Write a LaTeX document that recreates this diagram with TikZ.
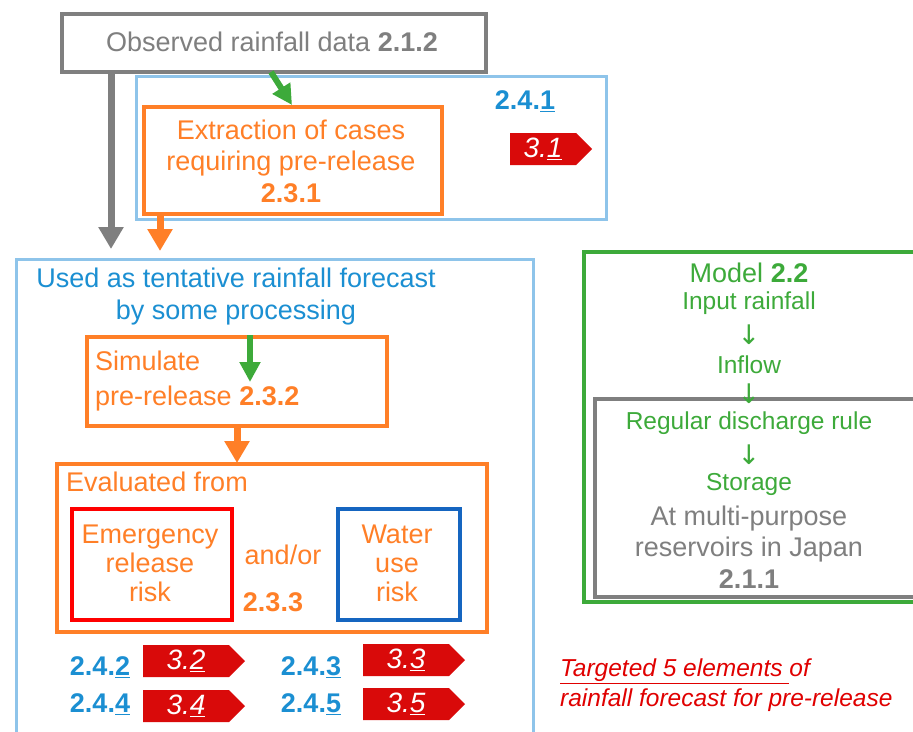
\documentclass[tikz,border=0pt]{standalone}
\usepackage{fontspec}
\setmainfont{Liberation Sans}
\newfontfamily\arrowfont{DejaVu Sans}
\usetikzlibrary{shapes.symbols,arrows.meta}
\definecolor{cgray}{HTML}{7F7F7F}
\definecolor{clblue}{HTML}{8EC4EA}
\definecolor{ctblue}{HTML}{1B8FD2}
\definecolor{corange}{HTML}{FF7F27}
\definecolor{cgreen}{HTML}{3DAA3A}
\definecolor{cred}{HTML}{FF0000}
\definecolor{ctag}{HTML}{D90A0A}
\definecolor{cdblue}{HTML}{1565C0}
\definecolor{cttext}{HTML}{E00000}
\begin{document}
\begin{tikzpicture}[x=1pt,y=-1pt,
  frame/.style={draw=#1, line width=4pt, inner sep=0pt, anchor=north west},
  thin frame/.style={draw=#1, line width=3pt, inner sep=0pt, anchor=north west},
  txt/.style={text=#1, font=\fontsize{27}{30}\selectfont, align=center, inner sep=0pt},
  gtxt/.style={text=cgreen, font=\fontsize{24.5}{28}\selectfont, align=center, inner sep=0pt},
  downarrow/.style={text=cgreen, font=\arrowfont\fontsize{27}{30}\selectfont, inner sep=0pt},
  fatarrow/.style={draw=#1, line width=7pt, -{Triangle[length=22pt,width=24pt]}},
  midarrow/.style={draw=#1, line width=6pt, -{Triangle[length=20pt,width=20pt]}},
  tag/.style={signal, signal to=east, signal pointer angle=90, fill=ctag, text=white,
    minimum width=102pt, minimum height=32pt, inner sep=0pt,
    font=\itshape\fontsize{28}{30}\selectfont},
  lbl/.style={text=ctblue, font=\bfseries\fontsize{27}{30}\selectfont, inner sep=0pt}
]
\useasboundingbox (0,0) rectangle (913,731);
\fill[white] (0,0) rectangle (913,731);

% top gray box
\node[frame=cgray, minimum width=424pt, minimum height=58pt] (obs) at (60,12) {};
\node[txt=cgray] (obst) at (272,42) {Observed rainfall data \textbf{2.1.2}};

% top light-blue box
\node[thin frame=clblue, minimum width=470pt, minimum height=143pt] (ext) at (135,75) {};
\node[frame=corange, minimum width=298pt, minimum height=107pt] (extr) at (142,105) {};
\node[txt=corange, font=\fontsize{27}{31.5}\selectfont] (extrt) at (291,161) {Extraction of cases\\requiring pre-release\\\textbf{2.3.1}};
\node[lbl] (l241) at (525,101) {2.4.\underline{1}};
\node[tag, minimum width=82pt] (t31) at (543,149) {3.\underline{1}};

% big light-blue box
\node[thin frame=clblue, minimum width=517pt, minimum height=500pt] (used) at (15,258) {};
\node[txt=ctblue] (usedt) at (236,278) {Used as tentative rainfall forecast};
\node[txt=ctblue] (usedt2) at (236,313) {by some processing};

\node[frame=corange, minimum width=300pt, minimum height=89pt] (sim) at (85,335) {};
\node[txt=corange, anchor=west, align=left, font=\fontsize{27}{35}\selectfont] (simt) at (95,381) {Simulate\\pre-release \textbf{2.3.2}};

\node[frame=corange, minimum width=430pt, minimum height=168pt] (eval) at (55,462) {};
\node[txt=corange, anchor=west] (evalt) at (66,482) {Evaluated from};
\node[frame=cred, minimum width=160pt, minimum height=111pt] (emer) at (70,507) {};
\node[txt=corange, font=\fontsize{27}{29}\selectfont] (emert) at (150,563) {Emergency\\release\\risk};
\node[frame=cdblue, minimum width=122pt, minimum height=111pt] (water) at (336,507) {};
\node[txt=corange, font=\fontsize{27}{29}\selectfont] (watert) at (397,563) {Water\\use\\risk};
\node[txt=corange] (andor) at (283,555) {and/or};
\node[txt=corange, font=\bfseries\fontsize{27}{30}\selectfont] (n233) at (273,602) {2.3.3};

% tags
\node[lbl] (l242) at (100,667) {2.4.\underline{2}};
\node[tag] (t32) at (186,661) {3.\underline{2}};
\node[lbl] (l243) at (311,667) {2.4.\underline{3}};
\node[tag] (t33) at (406,660) {3.\underline{3}};
\node[lbl] (l244) at (100,704) {2.4.\underline{4}};
\node[tag] (t34) at (186,706) {3.\underline{4}};
\node[lbl] (l245) at (311,704) {2.4.\underline{5}};
\node[tag] (t35) at (406,704) {3.\underline{5}};

% green model box
\node[frame=cgreen, line width=3.5pt, minimum width=340pt, minimum height=350pt] (model) at (582,250) {};
\node[frame=cgray, line width=4pt, minimum width=330pt, minimum height=198pt] (res) at (593,397) {};
\node[txt=cgreen] (modelt) at (749,273) {Model \textbf{2.2}};
\node[gtxt] (inp) at (749,303) {Input rainfall};
\node[downarrow] (a1) at (749,335) {↓};
\node[gtxt] (infl) at (749,365) {Inflow};
\node[downarrow] (a2) at (749,394) {↓};
\node[gtxt] (reg) at (749,423) {Regular discharge rule};
\node[downarrow] (a3) at (749,455) {↓};
\node[gtxt] (stor) at (749,484) {Storage};
\node[txt=cgray, font=\fontsize{27}{31.5}\selectfont] (rest) at (749,547) {At multi-purpose\\reservoirs in Japan\\\textbf{2.1.1}};

% red note
\node[text=cttext, font=\itshape\fontsize{24.5}{30}\selectfont, align=left, anchor=west, inner sep=0pt] (note) at (560,685) {\underline{Targeted 5 elements\ }of\\rainfall forecast for pre-release};

% arrows
\coordinate (g1) at (111,70);
\coordinate (g2) at (111,249);
\draw[fatarrow=cgray] (g1) -- (g2);
\coordinate (gr1) at (271,72);
\coordinate (gr2) at (292,105);
\draw[midarrow=cgreen] (gr1) -- (gr2);
\coordinate (o1) at (160,212);
\coordinate (o2) at (160,251);
\draw[fatarrow=corange] (o1) -- (o2);
\coordinate (gs1) at (250,335);
\coordinate (gs2) at (250,382);
\draw[midarrow=cgreen] (gs1) -- (gs2);
\coordinate (os1) at (237,424);
\coordinate (os2) at (237,463);
\draw[fatarrow=corange] (os1) -- (os2);
\end{tikzpicture}
\end{document}
